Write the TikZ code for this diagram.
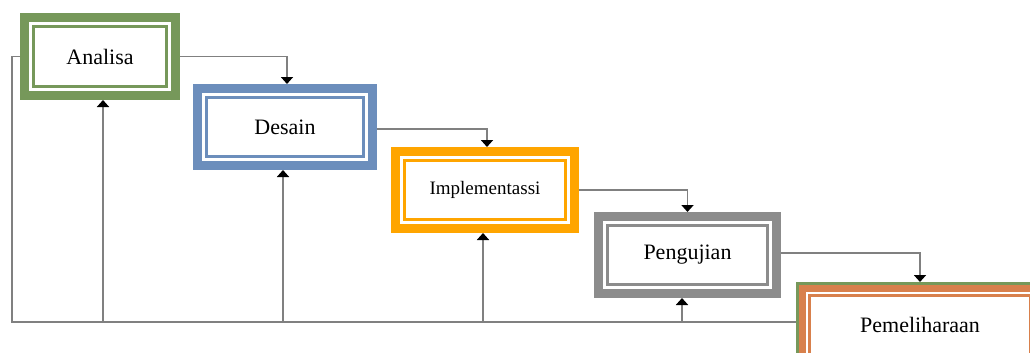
\documentclass[tikz,border=0pt]{standalone}
\usepackage{fontspec}
\setmainfont{Liberation Serif}
\usetikzlibrary{arrows.meta}
\definecolor{cgreen}{RGB}{118,152,90}
\definecolor{cblue}{RGB}{108,142,188}
\definecolor{corange}{RGB}{255,165,0}
\definecolor{cgray}{RGB}{140,140,140}
\definecolor{cbrown}{RGB}{216,128,76}
\definecolor{cline}{RGB}{128,128,128}
\begin{document}
\begin{tikzpicture}[x=1pt,y=-1pt,
  stagebox/.style={draw=#1, line width=9pt, fill=white, inner sep=0pt,
    font=\fontsize{22}{26}\selectfont},
  innerline/.style={draw=#1, line width=2.6pt},
  conn/.style={draw=cline, line width=1.8pt},
  arr/.style={conn, -{Triangle[width=12pt,length=7pt,black]}}]
\useasboundingbox (0,0) rectangle (1030,353);
% nodes
\node[stagebox=cgreen, minimum width=151pt, minimum height=78pt] (A) at (100,56.5) {Analisa};
\node[stagebox=cblue, minimum width=175pt, minimum height=77pt] (D) at (285,127) {Desain};
\node[stagebox=corange, minimum width=179pt, minimum height=77pt, font=\fontsize{19}{23}\selectfont] (I) at (485,190) {Implementassi};
\node[stagebox=cgray, minimum width=178pt, minimum height=77pt] (P) at (687.5,255) {Pengujian};
\node[stagebox=cbrown, line width=7pt, outer sep=6pt, minimum width=236pt, minimum height=74pt] (M) at (920,325) {Pemeliharaan};
% inner lines
\draw[innerline=cgreen] ([shift={(13.3pt,-13.3pt)}]A.north west) rectangle ([shift={(-13.3pt,13.3pt)}]A.south east);
\draw[innerline=cblue] ([shift={(13.3pt,-13.3pt)}]D.north west) rectangle ([shift={(-13.3pt,13.3pt)}]D.south east);
\draw[innerline=corange] ([shift={(13.3pt,-13.3pt)}]I.north west) rectangle ([shift={(-13.3pt,13.3pt)}]I.south east);
\draw[innerline=cgray] ([shift={(13.3pt,-13.3pt)}]P.north west) rectangle ([shift={(-13.3pt,13.3pt)}]P.south east);
\draw[cgreen, line width=2.5pt] ([shift={(1.25pt,-1.25pt)}]M.north west) rectangle ([shift={(-1.25pt,1.25pt)}]M.south east);
\draw[innerline=cbrown] ([shift={(13.5pt,-13.5pt)}]M.north west) rectangle ([shift={(-13.5pt,13.5pt)}]M.south east);
% forward connectors
\draw[arr] (A.east) -| ([xshift=2pt]D.north);
\draw[arr] ([yshift=-2pt]D.east) -| ([xshift=2pt]I.north);
\draw[arr] (I.east) -| (P.north);
\draw[arr] ([yshift=2pt]P.east) -| (M.north);
% feedback loop
\coordinate (c2) at (12,322);
\draw[conn] (A.west) -| (c2) -- (c2 -| M.west);
\draw[arr] ([xshift=3pt]A.south |- c2) -- ([xshift=3pt]A.south);
\draw[arr] ([xshift=-2pt]D.south |- c2) -- ([xshift=-2pt]D.south);
\draw[arr] ([xshift=-2pt]I.south |- c2) -- ([xshift=-2pt]I.south);
\draw[arr] ([xshift=-5.5pt]P.south |- c2) -- ([xshift=-5.5pt]P.south);
\end{tikzpicture}
\end{document}
